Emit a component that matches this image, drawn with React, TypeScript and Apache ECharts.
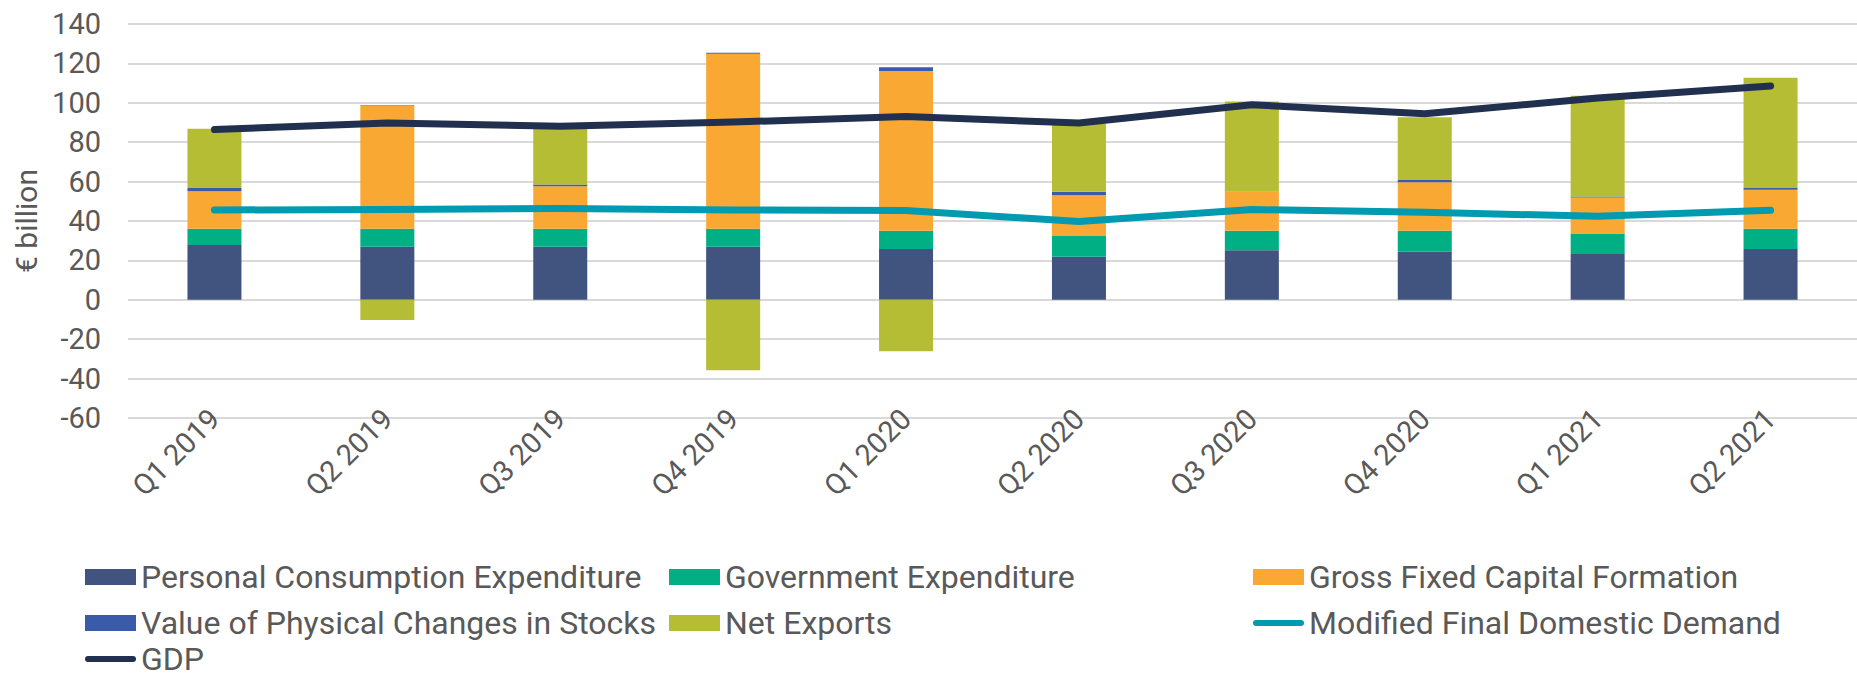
import React, { useEffect, useRef } from "react";
import * as echarts from "echarts";

const categories = ["Q1 2019", "Q2 2019", "Q3 2019", "Q4 2019", "Q1 2020", "Q2 2020", "Q3 2020", "Q4 2020", "Q1 2021", "Q2 2021"];
const personalConsumption = [27.8, 26.9, 26.9, 26.9, 25.8, 21.9, 25.1, 24.4, 23.2, 25.8];
const governmentExpenditure = [8.3, 9.2, 9.2, 9.2, 9.3, 10.5, 10.0, 10.7, 10.4, 10.3];
const grossFixedCapital = [19.0, 62.4, 21.5, 88.8, 81.0, 20.7, 19.8, 24.6, 18.3, 19.8];
const stockChanges = [1.7, 0.2, 0.9, 0.5, 1.9, 1.8, 0.1, 1.1, 0.5, 0.9];
const netExports = [30.0, -10.3, 28.6, -35.8, -26.1, 34.4, 45.6, 31.9, 51.2, 55.9];
const modifiedFinalDomesticDemand = [45.6, 45.8, 46.4, 45.6, 45.3, 39.7, 45.8, 44.4, 42.4, 45.4];
const gdp = [86.4, 89.7, 88.1, 90.2, 93.0, 89.7, 99.0, 94.4, 102.4, 108.5];

const yTicks = { min: -60, max: 140, interval: 20 };

const TEXT = "#595959";
const FONT = "Roboto";
const LINE_ICON = "path://M3,0 L48,0 A3,3 0 0 1 48,6 L3,6 A3,3 0 0 1 3,0 Z";

export default function App() {
  const ref = useRef<HTMLDivElement>(null);
  useEffect(() => {
    document.body.style.margin = "0";
    if (!ref.current) return;
    const chart = echarts.init(ref.current, null, { renderer: "svg" });
    const legendText = { color: TEXT, fontSize: 32, fontFamily: FONT, lineHeight: 30 };
    const barSeries = (name: string, data: number[], color: string) => ({
      name,
      type: "bar",
      stack: "total",
      data,
      barWidth: 54,
      itemStyle: { color },
      emphasis: { disabled: true },
    });
    const lineSeries = (name: string, data: number[], color: string) => ({
      name,
      type: "line",
      data,
      symbol: "none",
      showSymbol: false,
      z: 5,
      lineStyle: { color, width: 7, cap: "round", join: "round" },
      itemStyle: { color },
      emphasis: { disabled: true },
    });
    const legendBase = {
      orient: "vertical",
      padding: 0,
      itemGap: 14,
      itemWidth: 51,
      itemHeight: 16,
      textStyle: legendText,
      selectedMode: false,
      symbolKeepAspect: true,
    };
    chart.setOption({
      animation: false,
      textStyle: { fontFamily: FONT },
      grid: { left: 128, right: -6, top: 24, bottom: 262, containLabel: false },
      legend: [
        {
          ...legendBase,
          left: 85,
          top: 561,
          data: [
            { name: "Personal Consumption Expenditure", icon: "rect" },
            { name: "Value of Physical Changes in Stocks", icon: "rect" },
          ],
        },
        {
          ...legendBase,
          left: 85,
          top: 643,
          data: [{ name: "GDP", icon: LINE_ICON }],
        },
        {
          ...legendBase,
          left: 669,
          top: 561,
          data: [
            { name: "Government Expenditure", icon: "rect" },
            { name: "Net Exports", icon: "rect" },
          ],
        },
        {
          ...legendBase,
          left: 1253,
          top: 561,
          data: [
            { name: "Gross Fixed Capital Formation", icon: "rect" },
            { name: "Modified Final Domestic Demand", icon: LINE_ICON },
          ],
        },
      ],
      xAxis: {
        type: "category",
        data: categories,
        boundaryGap: true,
        axisLine: { show: false, onZero: false },
        axisTick: { show: false },
        axisLabel: { rotate: 45, fontSize: 29, color: TEXT, fontFamily: FONT, margin: -4, interval: 0 },
      },
      yAxis: {
        type: "value",
        min: yTicks.min,
        max: yTicks.max,
        interval: yTicks.interval,
        name: "€ billion",
        nameLocation: "middle",
        nameGap: 86,
        nameTextStyle: { fontSize: 30, color: TEXT, fontFamily: FONT },
        axisLine: { show: false },
        axisTick: { show: false },
        axisLabel: { fontSize: 29, color: TEXT, fontFamily: FONT, margin: 27 },
        splitLine: { lineStyle: { color: "#d9d9d9", width: 2 } },
      },
      series: [
        barSeries("Personal Consumption Expenditure", personalConsumption, "#41547F"),
        barSeries("Government Expenditure", governmentExpenditure, "#00AF84"),
        barSeries("Gross Fixed Capital Formation", grossFixedCapital, "#F9A833"),
        barSeries("Value of Physical Changes in Stocks", stockChanges, "#3A5BAA"),
        barSeries("Net Exports", netExports, "#B5BD34"),
        lineSeries("Modified Final Domestic Demand", modifiedFinalDomesticDemand, "#009BB0"),
        lineSeries("GDP", gdp, "#22304F"),
      ],
    });
    return () => chart.dispose();
  }, []);
  return <div ref={ref} style={{ width: 1857, height: 680 }} />;
}
